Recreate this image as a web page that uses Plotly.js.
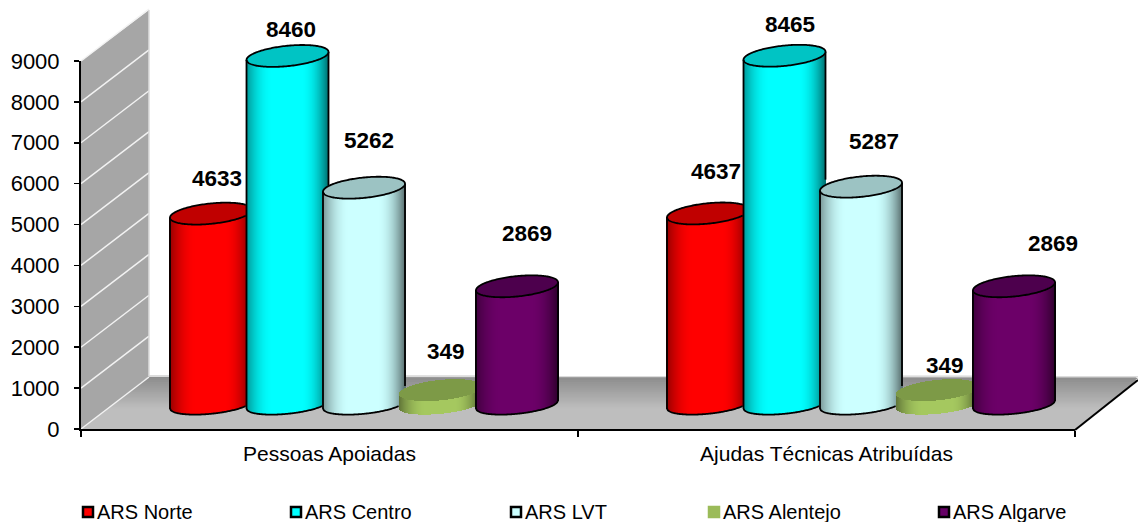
<!DOCTYPE html>
<html><head><meta charset="utf-8">
<script src="https://cdn.plot.ly/plotly-3.0.1.min.js"></script>
<style>html,body{margin:0;padding:0;background:#fff}#c{width:1138px;height:522px}</style>
</head><body><div id="c"></div>
<script>
// ---- data ----
const categories = ["Pessoas Apoiadas", "Ajudas Técnicas Atribuídas"];
const seriesNames = ["ARS Norte", "ARS Centro", "ARS LVT", "ARS Alentejo", "ARS Algarve"];
const arsNorte = [4633, 4637];
const arsCentro = [8460, 8465];
const arsLVT = [5262, 5287];
const arsAlentejo = [349, 349];
const arsAlgarve = [2869, 2869];
const yTicks = [0, 1000, 2000, 3000, 4000, 5000, 6000, 7000, 8000, 9000];

// ---- styles ----
const bodyRGB = [[255,0,0],[0,255,255],[204,255,255],[165,200,95],[108,0,104]];
const topRGB = [[192,0,0],[0,196,196],[156,195,195],[125,154,71],[77,0,77]];
const outlined = [true,true,true,false,true];
const swatch = ["#ff0000","#00ffff","#ccffff","#9bbb59","#660066"];
const swatchLine = ["#000","#000","#000","#9bbb59","#000"];
const legendX = [82, 290, 510, 708, 938];
// label centres in page pixels [series][category]
const labelX = [[217,716],[291,790],[369,874],[446,945],[527,1053]];
const labelY = [[178,171],[29,25],[140,141],[351,365],[233,244]];

const W = 1138, H = 522, FONT = '"Liberation Sans", Arial, sans-serif';
const all = [arsNorte, arsCentro, arsLVT, arsAlentejo, arsAlgarve];

// geometry (page pixels)
const axL = 81, axR = 1075, axB = 429, axT = 61;
const catPx = (axR - axL) / 2, cat0Px = 364;
const base = 404.5, pxPerUnit = 0.0412;
const a = 41, k = 4, bTop = 10.2, bBot = 9.3, step = 76.5;
const xU = p => (p - cat0Px) / catPx;
const yU = p => (base - p) / pxPerUnit;
const px = p => p / W, py = p => 1 - p / H;
const cxOf = (c, s) => cat0Px + c * catPx + (s - 2) * step;
const cyOf = (c, s) => base - all[s][c] * pxPerUnit;

function shade(rgb, r) {
  const t = Math.max(0, (Math.abs(r) - 0.34) / 0.66);
  const f = 1 - (r > 0 ? 0.55 : 0.42) * t * t;
  return `rgb(${rgb.map(v => Math.round(v * f)).join(",")})`;
}
function inside(c, s, x, y) {
  if (s > 4) return false;
  const r = (x - cxOf(c, s)) / a;
  if (Math.abs(r) >= 1) return false;
  const q = Math.sqrt(1 - r * r);
  const up = cyOf(c, s) - k * r - bTop * q;
  const lo = base - k * r + bBot * q;
  return y > up && y < lo;
}

const traces = [{
  x: categories, y: [0, 0], xaxis: "x", yaxis: "y", type: "scatter", mode: "none",
  hoverinfo: "skip", showlegend: false
}];
const lineTraces = [];

all.forEach((vals, s) => {
  // plain bars carrying the values
  traces.push({
    type: "bar", name: seriesNames[s], xaxis: "x2", yaxis: "y2",
    x: vals.map((_, c) => xU(cxOf(c, s))), y: vals,
    width: 1.76 * a * 0.9 / catPx, showlegend: false,
    marker: { color: swatch[s], line: { width: 0 } },
    hovertemplate: "%{y}<extra>" + seriesNames[s] + "</extra>"
  });
  // shaded slices and the cap
  const bx = [], by = [], bb = [], bc = [], tx = [], ty = [], tb = [], tc = [];
  vals.forEach((v, c) => {
    const cx = cxOf(c, s), cy = cyOf(c, s);
    for (let p = Math.ceil(cx - a); p <= Math.floor(cx + a); p++) {
      const r = Math.max(-1, Math.min(1, (p - cx) / a));
      const q = Math.sqrt(1 - r * r);
      const bot = base - k * r + bBot * q, mid = cy - k * r;
      bx.push(xU(p)); bb.push(yU(bot)); by.push(yU(mid) - yU(bot)); bc.push(shade(bodyRGB[s], r));
      const u = cy - k * r - bTop * q, d = cy - k * r + bTop * q;
      tx.push(xU(p)); tb.push(yU(d)); ty.push(yU(u) - yU(d)); tc.push(`rgb(${topRGB[s].join(",")})`);
    }
  });
  const common = { type: "bar", xaxis: "x2", yaxis: "y2", width: 1.3 / catPx, hoverinfo: "skip", showlegend: false };
  traces.push(Object.assign({ x: bx, y: by, base: bb, marker: { color: bc, line: { width: 0 } } }, common));
  traces.push(Object.assign({ x: tx, y: ty, base: tb, marker: { color: tc, line: { width: 0 } } }, common));

  if (outlined[s]) {
    const lx = [], ly = [];
    const add = (x, y, c) => {
      if (inside(c, s + 1, x, y)) { if (lx.length && lx[lx.length - 1] !== null) { lx.push(null); ly.push(null); } return; }
      lx.push(xU(x)); ly.push(yU(y));
    };
    const brk = () => { lx.push(null); ly.push(null); };
    vals.forEach((v, c) => {
      const cx = cxOf(c, s), cy = cyOf(c, s);
      for (let i = 0; i <= 180; i++) {
        const t = i * Math.PI / 90;
        add(cx + a * Math.cos(t), cy - k * Math.cos(t) - bTop * Math.sin(t), c);
      }
      brk();
      for (let i = 0; i <= 60; i++) { const f = i / 60; add(cx - a, cy + k + f * (base - cy), c); }
      for (let i = 0; i <= 90; i++) {
        const r = -1 + i / 45;
        add(cx + a * r, base - k * r + bBot * Math.sqrt(Math.max(0, 1 - r * r)), c);
      }
      for (let i = 60; i >= 0; i--) { const f = i / 60; add(cx + a, cy - k + f * (base - cy), c); }
      brk();
    });
    lineTraces.push({ x: lx, y: ly, type: "scatter", mode: "lines", xaxis: "x2", yaxis: "y2", hoverinfo: "skip",
      showlegend: false, connectgaps: false, line: { color: "#000", width: 1.8, simplify: false } });
  }
});
traces.push(...lineTraces);

// ---- shapes: wall, floor, legend swatches ----
const shapes = [];
const poly = pts => "M" + pts.map(p => px(p[0]) + "," + py(p[1])).join("L") + "Z";
const line = (x0, y0, x1, y1, color, width, layer) => shapes.push({
  type: "line", xref: "paper", yref: "paper", x0: px(x0), y0: py(y0), x1: px(x1), y1: py(y1),
  line: { color, width }, layer: layer || "below" });
const yOfTick = v => axB - (axB - axT) * v / 9000;
const N = 26;
for (let i = 0; i < N; i++) {
  const y = 376 + (429 - 376) * i / N, f = i / (N - 1);
  const g = Math.round(140 + (190 - 140) * Math.min(1, f * 1.6));
  const lx = 149 - 68 * (y - 376) / 53, rx = Math.min(1138, 1138 - 63 * (y - 379) / 50);
  shapes.push({ type: "path", xref: "paper", yref: "paper", layer: "below", line: { width: 0 },
    fillcolor: `rgb(${g},${g},${g})`, path: poly([[lx, y], [rx, y], [1075, 429], [81, 429]]) });
}
shapes.push({ type: "path", xref: "paper", yref: "paper", layer: "below", line: { width: 0 },
  fillcolor: "#a6a6a6", path: poly([[81, 61], [149, 10], [149, 376], [81, 429]]) });
yTicks.forEach(v => line(81, yOfTick(v), 149, yOfTick(v) - 52, "#f2f2f2", 1.5));
line(149, 10, 149, 376, "#dcdcdc", 1.5);
line(149, 376, 1138, 376.5, "#dcdcdc", 2);
line(1075, 430, 1138, 380, "#000", 2, "above");

const annotations = [];
all.forEach((vals, s) => {
  vals.forEach((v, c) => annotations.push({
    xref: "paper", yref: "paper", x: px(labelX[s][c]), y: py(labelY[s][c]), text: "<b>" + v + "</b>",
    showarrow: false, xanchor: "center", yanchor: "middle", font: { family: FONT, size: 22.5, color: "#000" } }));
  const lx = legendX[s];
  shapes.push({ type: "rect", xref: "paper", yref: "paper", layer: "above", x0: px(lx + 1), x1: px(lx + 11), y0: py(507), y1: py(517),
    fillcolor: swatch[s], line: { color: swatchLine[s], width: 2.5 } });
  annotations.push({ xref: "paper", yref: "paper", x: px(lx + 13), y: py(512), text: seriesNames[s], showarrow: false,
    xanchor: "left", yanchor: "middle", font: { family: FONT, size: 20, color: "#000" } });
});

const layout = {
  width: W, height: H, margin: { l: 0, r: 0, t: 0, b: 0 }, showlegend: false,
  paper_bgcolor: "#fff", plot_bgcolor: "rgba(0,0,0,0)", barmode: "overlay", bargap: 0, bargroupgap: 0,
  xaxis: { domain: [axL / W, axR / W], anchor: "y", type: "category", categoryarray: categories, categoryorder: "array",
    range: [-0.5, 1.5], tickson: "boundaries", ticks: "outside", ticklen: 6, tickwidth: 1.5, tickcolor: "#000",
    showline: true, linecolor: "#000", linewidth: 2, showgrid: false, zeroline: false, fixedrange: true,
    ticklabelstandoff: 5, tickfont: { family: FONT, size: 21, color: "#000" } },
  yaxis: { domain: [1 - axB / H, 1 - axT / H], anchor: "x", range: [0, 9000], tickmode: "array", tickvals: yTicks,
    ticks: "outside", ticklen: 5, tickwidth: 1.5, tickcolor: "#000", showline: true, linecolor: "#000", linewidth: 2,
    showgrid: false, zeroline: false, fixedrange: true, ticklabelstandoff: 10, tickfont: { family: FONT, size: 22, color: "#000" } },
  xaxis2: { domain: [0, 1], anchor: "y2", range: [xU(0), xU(W)], visible: false, fixedrange: true },
  yaxis2: { domain: [0, 1], anchor: "x2", range: [yU(H), yU(0)], visible: false, fixedrange: true },
  shapes, annotations
};
Plotly.newPlot("c", traces, layout, { displayModeBar: false, staticPlot: true });
</script></body></html>
